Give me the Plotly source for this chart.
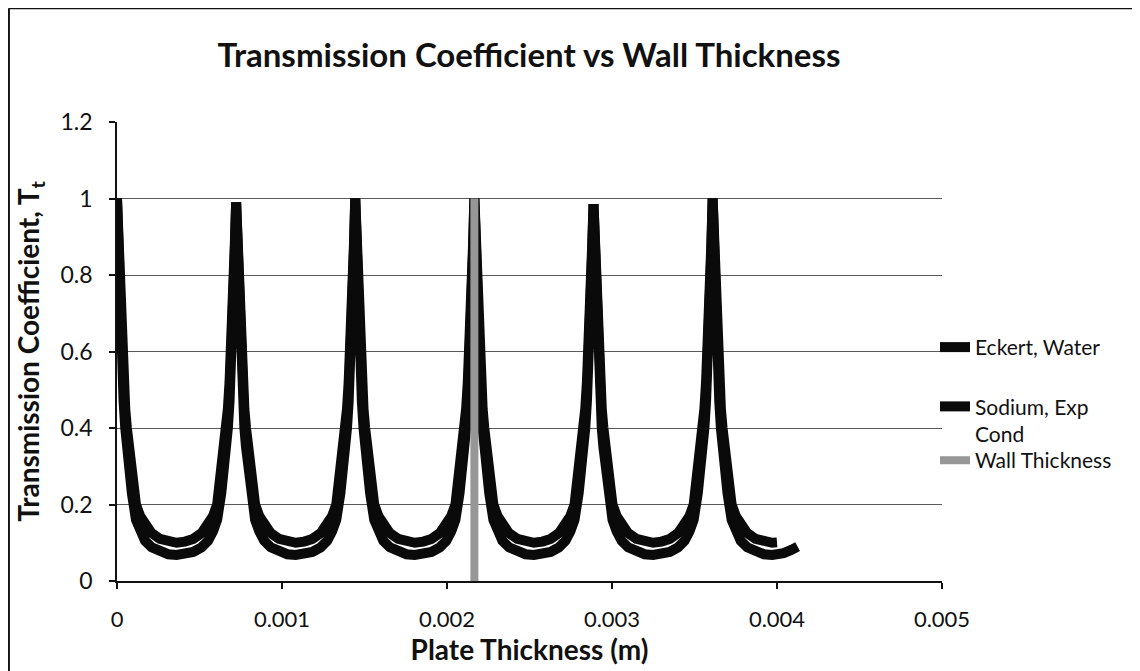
import plotly.graph_objects as go

# Plate thickness in micrometres (converted to metres for plotting)
thickness_um = [
    0, 8, 15, 22, 30, 40, 50, 60, 75, 90, 115, 140, 170, 210, 260, 310,
    361, 412, 462, 512, 552, 582, 607, 632, 647, 662, 672, 682, 692, 700, 707, 714,
    722, 730, 737, 744, 752, 762, 772, 782, 797, 812, 837, 862, 892, 932, 982, 1032,
    1083, 1134, 1184, 1234, 1274, 1304, 1329, 1354, 1369, 1384, 1394, 1404, 1414, 1422, 1429, 1436,
    1444, 1452, 1459, 1466, 1474, 1484, 1494, 1504, 1519, 1534, 1559, 1584, 1614, 1654, 1704, 1754,
    1805, 1856, 1906, 1956, 1996, 2026, 2051, 2076, 2091, 2106, 2116, 2126, 2136, 2144, 2151, 2158,
    2166, 2174, 2181, 2188, 2196, 2206, 2216, 2226, 2241, 2256, 2281, 2306, 2336, 2376, 2426, 2476,
    2527, 2578, 2628, 2678, 2718, 2748, 2773, 2798, 2813, 2828, 2838, 2848, 2858, 2866, 2873, 2880,
    2888, 2896, 2903, 2910, 2918, 2928, 2938, 2948, 2963, 2978, 3003, 3028, 3058, 3098, 3148, 3198,
    3249, 3300, 3350, 3400, 3440, 3470, 3495, 3520, 3535, 3550, 3560, 3570, 3580, 3588, 3595, 3602,
    3610, 3618, 3625, 3632, 3640, 3650, 3660, 3670, 3685, 3700, 3725, 3750, 3780, 3820, 3870, 3920,
    3971, 4000, 4040, 4090, 4125,
]

eckert_T = [
    1.0, 0.88, 0.8, 0.7, 0.6, 0.52, 0.45, 0.4, 0.33, 0.28, 0.2, 0.17, 0.145, 0.125, 0.11, 0.103,
    0.10, 0.103, 0.11, 0.125, 0.145, 0.17, 0.2, 0.28, 0.33, 0.4, 0.45, 0.52, 0.6, 0.7, 0.8, 0.88,
    0.99, 0.88, 0.8, 0.7, 0.6, 0.52, 0.45, 0.4, 0.33, 0.28, 0.2, 0.17, 0.145, 0.125, 0.11, 0.103,
    0.10, 0.103, 0.11, 0.125, 0.145, 0.17, 0.2, 0.28, 0.33, 0.4, 0.45, 0.52, 0.6, 0.7, 0.8, 0.88,
    1.0, 0.88, 0.8, 0.7, 0.6, 0.52, 0.45, 0.4, 0.33, 0.28, 0.2, 0.17, 0.145, 0.125, 0.11, 0.103,
    0.10, 0.103, 0.11, 0.125, 0.145, 0.17, 0.2, 0.28, 0.33, 0.4, 0.45, 0.52, 0.6, 0.7, 0.8, 0.88,
    1.0, 0.88, 0.8, 0.7, 0.6, 0.52, 0.45, 0.4, 0.33, 0.28, 0.2, 0.17, 0.145, 0.125, 0.11, 0.103,
    0.10, 0.103, 0.11, 0.125, 0.145, 0.17, 0.2, 0.28, 0.33, 0.4, 0.45, 0.52, 0.6, 0.7, 0.8, 0.88,
    0.985, 0.88, 0.8, 0.7, 0.6, 0.52, 0.45, 0.4, 0.33, 0.28, 0.2, 0.17, 0.145, 0.125, 0.11, 0.103,
    0.10, 0.103, 0.11, 0.125, 0.145, 0.17, 0.2, 0.28, 0.33, 0.4, 0.45, 0.52, 0.6, 0.7, 0.8, 0.88,
    1.0, 0.88, 0.8, 0.7, 0.6, 0.52, 0.45, 0.4, 0.33, 0.28, 0.2, 0.17, 0.145, 0.125, 0.11, 0.103,
    0.10, 0.101,
]

sodium_T = [
    1.0, 0.86, 0.77, 0.66, 0.56, 0.47, 0.40, 0.35, 0.28, 0.23, 0.16, 0.13, 0.105, 0.088, 0.076, 0.07,
    0.068, 0.07, 0.076, 0.088, 0.105, 0.13, 0.16, 0.23, 0.28, 0.35, 0.40, 0.47, 0.56, 0.66, 0.77, 0.86,
    0.99, 0.86, 0.77, 0.66, 0.56, 0.47, 0.40, 0.35, 0.28, 0.23, 0.16, 0.13, 0.105, 0.088, 0.076, 0.07,
    0.068, 0.07, 0.076, 0.088, 0.105, 0.13, 0.16, 0.23, 0.28, 0.35, 0.40, 0.47, 0.56, 0.66, 0.77, 0.86,
    1.0, 0.86, 0.77, 0.66, 0.56, 0.47, 0.40, 0.35, 0.28, 0.23, 0.16, 0.13, 0.105, 0.088, 0.076, 0.07,
    0.068, 0.07, 0.076, 0.088, 0.105, 0.13, 0.16, 0.23, 0.28, 0.35, 0.40, 0.47, 0.56, 0.66, 0.77, 0.86,
    1.0, 0.86, 0.77, 0.66, 0.56, 0.47, 0.40, 0.35, 0.28, 0.23, 0.16, 0.13, 0.105, 0.088, 0.076, 0.07,
    0.068, 0.07, 0.076, 0.088, 0.105, 0.13, 0.16, 0.23, 0.28, 0.35, 0.40, 0.47, 0.56, 0.66, 0.77, 0.86,
    0.985, 0.86, 0.77, 0.66, 0.56, 0.47, 0.40, 0.35, 0.28, 0.23, 0.16, 0.13, 0.105, 0.088, 0.076, 0.07,
    0.068, 0.07, 0.076, 0.088, 0.105, 0.13, 0.16, 0.23, 0.28, 0.35, 0.40, 0.47, 0.56, 0.66, 0.77, 0.86,
    1.0, 0.86, 0.77, 0.66, 0.56, 0.47, 0.40, 0.35, 0.28, 0.23, 0.16, 0.13, 0.105, 0.088, 0.076, 0.07,
    0.068, 0.069, 0.073, 0.082, 0.09,
]

wall_thickness_um = [2166, 2166]
wall_T = [0.0, 1.0]

x_tick_values = [0, 0.001, 0.002, 0.003, 0.004, 0.005]
x_tick_labels = ["0", "0.001", "0.002", "0.003", "0.004", "0.005"]
y_tick_values = [0, 0.2, 0.4, 0.6, 0.8, 1.0, 1.2]
y_tick_labels = ["0", "0.2", "0.4", "0.6", "0.8", "1", "1.2"]

def to_m(vals):
    return [v * 1e-6 for v in vals]

FONT = "Lato"
INK = "#111111"
LEG_FONT = dict(size=21, family=FONT, color=INK)

fig = go.Figure()
fig.add_trace(go.Scatter(
    x=to_m(thickness_um[:len(eckert_T)]), y=eckert_T, mode="lines", name="Eckert, Water",
    line=dict(color="#0a0a0a", width=10), legendgroup="g1", legend="legend",
))
fig.add_trace(go.Scatter(
    x=to_m(thickness_um[:len(sodium_T)]), y=sodium_T, mode="lines", name="Sodium, Exp<br>Cond",
    line=dict(color="#0a0a0a", width=10), legendgroup="g2", legend="legend",
))
fig.add_trace(go.Scatter(
    x=to_m(wall_thickness_um), y=wall_T, mode="lines", name="Wall Thickness",
    line=dict(color="#979797", width=8), legendgroup="g3", legend="legend2",
))

fig.update_layout(
    width=1132, height=663, autosize=False,
    paper_bgcolor="white", plot_bgcolor="white",
    margin=dict(l=109, r=198, t=114, b=90),
    font=dict(family=FONT, color=INK),
    title=dict(text="<b>Transmission Coefficient vs Wall Thickness</b>",
               x=0.4602, xanchor="center", y=0.929, yanchor="middle",
               font=dict(size=33, family=FONT, color=INK)),
    showlegend=True,
    legend=dict(x=0.9915, xanchor="left", y=0.5535, yanchor="top",
                font=LEG_FONT, tracegroupgap=29, traceorder="grouped", valign="top",
                bgcolor="rgba(0,0,0,0)"),
    legend2=dict(x=0.9915, xanchor="left", y=0.307, yanchor="top",
                 font=LEG_FONT, valign="top", bgcolor="rgba(0,0,0,0)"),
    shapes=[
        dict(type="line", xref="paper", yref="paper",
             x0=-0.131, x1=-0.131, y0=-0.25, y1=1.248,
             line=dict(color=INK, width=2)),
        dict(type="line", xref="paper", yref="paper",
             x0=-0.131, x1=1.26, y0=1.248, y1=1.248,
             line=dict(color=INK, width=2)),
    ],
)

fig.update_xaxes(
    range=[0, 0.005], tickvals=x_tick_values, ticktext=x_tick_labels,
    showgrid=False, zeroline=False, automargin=False,
    showline=True, linecolor=INK, linewidth=1.5,
    ticks="outside", ticklen=6, tickcolor=INK, tickwidth=1.5,
    tickfont=dict(size=22, family=FONT, color=INK),
    ticklabelstandoff=12,
    title=dict(text="<b>Plate Thickness (m)</b>", font=dict(size=28, family=FONT, color=INK),
               standoff=2),
)
fig.update_yaxes(
    range=[0, 1.2], tickvals=y_tick_values, ticktext=y_tick_labels,
    showgrid=True, gridcolor="#5a5a5a", gridwidth=1,
    zeroline=False, automargin=False,
    showline=True, linecolor=INK, linewidth=1.5,
    ticks="outside", ticklen=6, tickcolor=INK, tickwidth=1.5,
    tickfont=dict(size=23, family=FONT, color=INK),
    ticklabelstandoff=12,
    title=dict(text="<b>Transmission Coefficient, T<sub>t</sub></b>",
               font=dict(size=28, family=FONT, color=INK), standoff=13),
)

fig.write_html("out.html")
